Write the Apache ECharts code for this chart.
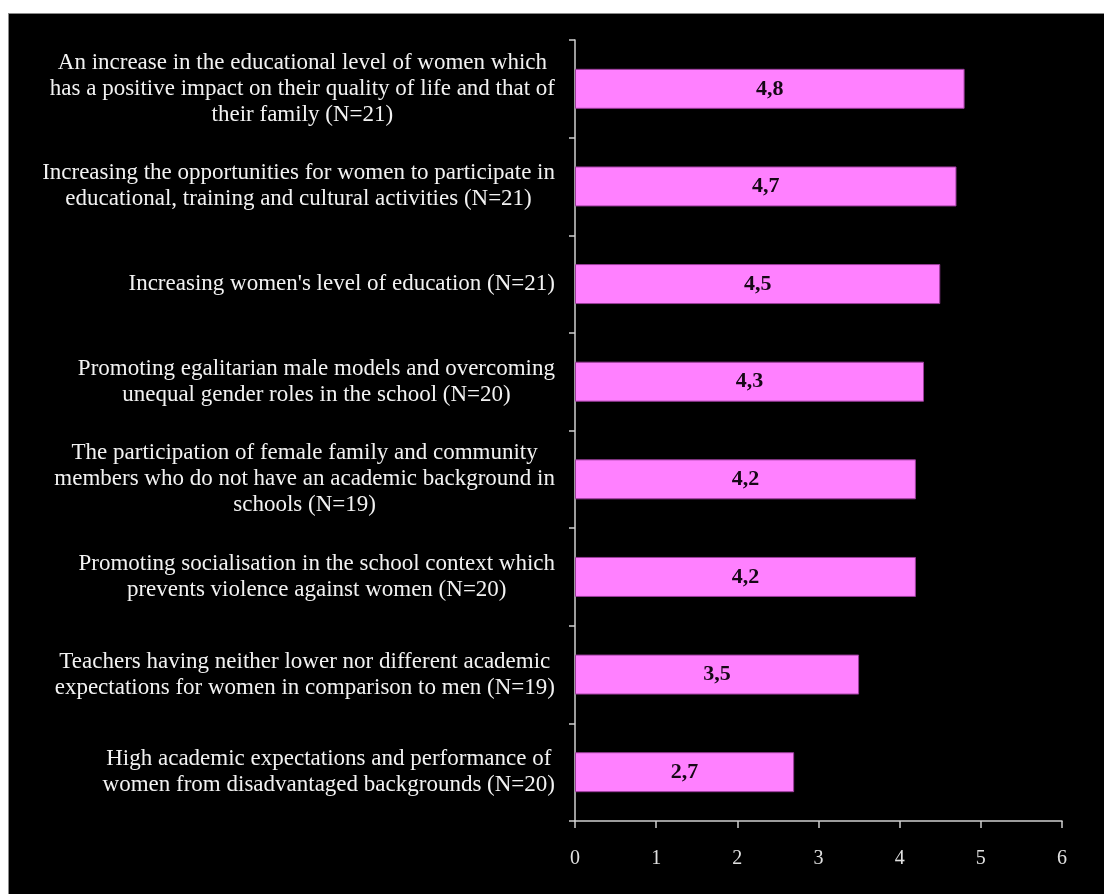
<!DOCTYPE html>
<html>
<head>
<meta charset="utf-8">
<script src="https://cdn.jsdelivr.net/npm/echarts@6/dist/echarts.min.js"></script>
<style>
  html, body { margin: 0; padding: 0; background: #ffffff; }
  #frame {
    position: absolute; left: 8px; top: 13px;
    width: 1095px; height: 880px;
    border-top: 1px solid #8a8a8a; border-left: 1px solid #8a8a8a;
    background: #000000;
  }
  #chart { width: 1095px; height: 880px; }
</style>
</head>
<body>
<div id="frame"><div id="chart"></div></div>
<script>
// Statements, listed top to bottom
const categories = [
  "An increase in the educational level of women which\nhas a positive impact on their quality of life and that of\ntheir family (N=21)",
  "Increasing the opportunities for women to participate in\neducational, training and cultural activities (N=21)",
  "Increasing women's level of education (N=21)",
  "Promoting egalitarian male models and overcoming\nunequal gender roles in the school (N=20)",
  "The participation of female family and community\nmembers who do not have an academic background in\nschools (N=19)",
  "Promoting socialisation in the school context which\nprevents violence against women (N=20)",
  "Teachers having neither lower nor different academic\nexpectations for women in comparison to men (N=19)",
  "High academic expectations and performance of\nwomen from disadvantaged backgrounds (N=20)"
];

// Mean rating per statement
const meanScores = [4.8, 4.7, 4.5, 4.3, 4.2, 4.2, 3.5, 2.7];

// Value axis ticks
const axisMin = 0;
const axisMax = 6;
const axisStep = 1;

const serif = '"Liberation Serif", "Times New Roman", "DejaVu Serif", serif';

const chart = echarts.init(document.getElementById('chart'), null, { renderer: 'canvas' });

chart.setOption({
  backgroundColor: '#000000',
  animation: false,
  grid: { left: 566, right: 42, top: 26, bottom: 73, containLabel: false },
  xAxis: {
    type: 'value',
    min: axisMin,
    max: axisMax,
    interval: axisStep,
    splitLine: { show: false },
    axisLine: { show: true, lineStyle: { color: '#d0d0d0', width: 1.5 } },
    axisTick: { show: true, length: 7, lineStyle: { color: '#d0d0d0', width: 1.5 } },
    axisLabel: {
      color: '#e0e0e0',
      fontFamily: serif,
      fontSize: 20,
      margin: 28
    }
  },
  yAxis: {
    type: 'category',
    data: categories,
    inverse: true,
    axisLine: { show: true, lineStyle: { color: '#d0d0d0', width: 1.5 } },
    axisTick: { show: true, length: 6, lineStyle: { color: '#d0d0d0', width: 1.5 } },
    axisLabel: {
      margin: 20,
      align: 'right',
      formatter: function (v) {
        return v.split('\n').map(function (s) { return '{c|' + s + '}'; }).join('\n');
      },
      rich: {
        c: {
          align: 'center',
          color: '#f2f2f2',
          fontFamily: serif,
          fontSize: 23,
          lineHeight: 26
        }
      }
    }
  },
  series: [{
    type: 'bar',
    data: meanScores,
    barWidth: 40,
    itemStyle: {
      color: '#ff80ff',
      borderColor: '#9a3c9a',
      borderWidth: 1
    },
    label: {
      show: true,
      position: 'inside',
      color: '#160816',
      fontFamily: serif,
      fontWeight: 'bold',
      fontSize: 22,
      formatter: function (p) { return p.value.toFixed(1).replace('.', ','); }
    }
  }]
});
</script>
</body>
</html>
